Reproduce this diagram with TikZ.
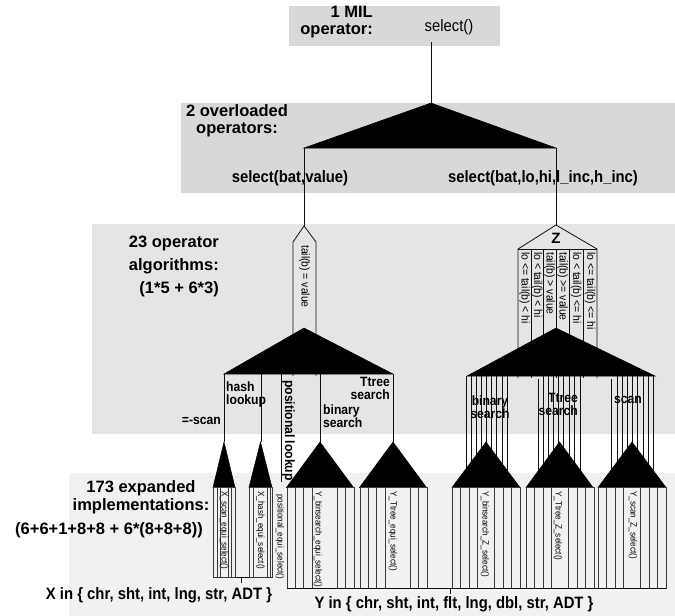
\documentclass[tikz,border=0pt]{standalone}
\usepackage{fontspec}
\setmainfont{Liberation Sans}
\newfontfamily\narrowsf[FakeStretch=0.9]{Liberation Sans}
\usetikzlibrary{positioning}
\definecolor{bandhi}{HTML}{D8D8D8}
\definecolor{bandmid}{HTML}{E5E5E5}
\definecolor{bandlo}{HTML}{F1F1F1}
\definecolor{ink}{HTML}{101010}
\definecolor{wire}{HTML}{3A3A3A}
\tikzset{
  lvl/.style  ={font=\fontsize{16.5}{17}\selectfont\bfseries, inner sep=0pt},
  sig/.style  ={font=\narrowsf\fontsize{16.5}{18}\selectfont\bfseries, inner sep=0pt},
  call/.style ={font=\narrowsf\fontsize{16.5}{18}\selectfont, inner sep=0pt},
  alg/.style  ={font=\narrowsf\fontsize{13.5}{13}\selectfont\bfseries, inner sep=0pt},
  pred/.style ={font=\narrowsf\fontsize{11.5}{12}\selectfont, inner sep=0pt, rotate=-90, anchor=west},
  impl/.style ={font=\narrowsf\fontsize{9}{9}\selectfont, inner sep=0pt, rotate=-90, anchor=west},
  fan/.style  ={fill=black, draw=black, line width=.5pt},
  ln/.style   ={draw=ink, line width=.8pt},
  lnt/.style  ={draw=wire, line width=.6pt},
}

\begin{document}
\begin{tikzpicture}[x=1pt,y=-1pt]
  \useasboundingbox (0,0) rectangle (675,616);
  \fill[bandhi]  (289,6)   rectangle (500,46);
  \fill[bandhi]  (181,103) rectangle (675,193);
  \fill[bandmid] (92,224)  rectangle (675,434);
  \fill[bandlo]  (69,473)  rectangle (675,616);

  % level captions
  \node[lvl,align=right,anchor=east] (lv1) at (373,22) {1 MIL\\operator:};
  \node[call] (op) at (449,27) {select()};
  \node[lvl,align=center] (lv2) at (237,121) {2 overloaded\\operators:};
  \node[lvl,align=right,anchor=east,font=\fontsize{16.5}{23}\selectfont\bfseries] (lv3) at (219,266) {23 operator\\algorithms:\\(1*5 + 6*3)};
  \node[lvl,align=center,font=\fontsize{16.5}{18}\selectfont\bfseries] (lv4) at (141,497) {173 expanded\\implementations:};
  \node[lvl] (lv4n) at (109,530) {(6+6+1+8+8 + 6*(8+8+8))};
  \node[sig] (xin) at (159,595) {X in \{ chr, sht, int, lng, str, ADT \}};
  \node[sig] (yin) at (454,604) {Y in \{ chr, sht, int, flt, lng, dbl, str, ADT \}};

  \node[sig] (sv) at (290,178) {select(bat,value)};
  \node[sig] (sr) at (543,178) {select(bat,lo,hi,l\_inc,h\_inc)};

  % algorithm labels
  \node[alg,anchor=east] (scan) at (221,421) {=-scan};
  \node[alg,align=left,anchor=north west] (hash) at (226,382) {hash\\lookup};
  \node[alg,rotate=-90,anchor=west] (posl) at (288.5,380) {positional lookup};
  \node[alg,align=left,anchor=north west] (bin1) at (323,405) {binary\\search};
  \node[alg,align=right,anchor=north east] (tt1) at (390,377) {Ttree\\search};
  \node[alg,align=center] (bin2) at (490,407) {binary\\search};
  \node[alg,align=right,anchor=north east] (tt2) at (578,393) {Ttree\\search};
  \node[alg] (scn) at (628,400) {scan};

  % operator -> overloads
  \coordinate (a1)  at (431,42);
  \coordinate (t1)  at (431,103);
  \coordinate (t1l) at (304,148);
  \coordinate (t1r) at (556,148);
  \draw[ln] (a1) -- (t1);
  \fill[fan] (t1) -- (t1l) -- (t1r) -- cycle;

  % select(bat,value)
  \coordinate (eq) at (304,226);
  \draw[ln] (t1l) -- (eq);
  \draw[ln] (293,376) -- (293,242) -- (eq) -- (316,242) -- (316,376);
  \node[pred] (peq) at (304.5,245) {tail(b) = value};

  % select(bat,lo,hi,...)
  \coordinate (zt) at (556,225);
  \draw[ln] (t1r) -- (zt);
  \draw[ln] (518,378) -- (518,249) -- (zt) -- (597,249) -- (597,378);
  \draw[ln] (518,249) -- (597,249);
  \foreach \x in {531,543,556,569,583} \draw[ln] (\x,249) -- (\x,378);
  \node[font=\fontsize{15}{15}\selectfont\bfseries,inner sep=0pt] (zl) at (556,238) {Z};
  \foreach \x/\t [count=\i] in {524.5/lo <= tail(b) < hi, 537/lo < tail(b) < hi,
      549.5/tail(b) > value, 562.5/tail(b) >= value,
      576/lo < tail(b) <= hi, 590/lo <= tail(b) <= hi}
    \node[pred] (pz\i) at (\x,252) {\t};

  % algorithm fans
  \coordinate (t2) at (304,328);
  \fill[fan] (t2) -- (224,374) -- (393,374) -- cycle;
  \coordinate (t3) at (556,328);
  \fill[fan] (t3) -- (467,376) -- (655,376) -- cycle;

  \foreach \x in {224,261,320,393} \draw[ln] (\x,374) -- (\x,442);
  \draw[ln] (281,374) -- (281,482);
  \foreach \x in {466,471,476,481,486,491,496,502,507,
                  543,548,553,558,563,569,574,580,
                  617,622,627,632,637,643,648,653} \draw[ln] (\x,376) -- (\x,487);
  \draw[ln] (538,379) -- (538,487);
  \draw[ln] (611,379) -- (611,487);

  % implementation fans
  \foreach \x/\w [count=\i] in {224/11, 260.5/11.5, 320/33.5, 393/33.5,
                                486/34, 559.5/33.5, 632/34} {
    \coordinate (f\i) at (\x,442);
    \fill[fan] (f\i) -- (\x-\w,487.5) -- (\x+\w,487.5) -- cycle;
  }

  % X blocks
  \draw[lnt] (213,487.5) rectangle (235,577);
  \foreach \x in {217,220.5,228,231.5} \draw[lnt] (\x,487.5) -- (\x,577);
  \draw[lnt] (249,487.5) rectangle (272,577);
  \foreach \x in {253,267.5,270} \draw[lnt] (\x,487.5) -- (\x,577);
  \node[impl] (ixs) at (224,491) {X\_scan\_equi\_select()};
  \node[impl] (ixh) at (260.5,491) {X\_hash\_equi\_select()};
  \node[impl] (ipos) at (280,494) {positional\_equi\_select()};

  % Y blocks
  \foreach \l in {287,360} {
    \draw[lnt] (\l,487.5) rectangle +(67,100.5);
    \foreach \k in {1,2,3,6,7} \draw[lnt] (\l+8.375*\k,487.5) -- +(0,100.5);
  }
  \foreach \l in {452,526,598} {
    \draw[lnt] (\l,487.5) rectangle +(68,100.5);
    \foreach \k in {1,2,3,5,6,7} \draw[lnt] (\l+8.5*\k,487.5) -- +(0,100.5);
  }
  \node[impl] (iyb) at (318,491) {Y\_binsearch\_equi\_select()};
  \node[impl] (iyt) at (393,491) {Y\_Ttree\_equi\_select()};
  \node[impl] (izb) at (485,491) {Y\_binsearch\_Z\_select()};
  \node[impl] (izt) at (558,491) {Y\_Ttree\_Z\_select()};
  \node[impl] (izs) at (633,491) {Y\_scan\_Z\_select()};

  % type brackets
  \coordinate (xb) at (241,583);
  \coordinate (yb) at (450,594);
  \draw[ln] (235,577) -- (249,577);
  \draw[ln] (241,577) -- (xb);
  \draw[ln] (287,588) -- (666,588);
  \draw[ln] (450,588) -- (yb);
\end{tikzpicture}
\end{document}
